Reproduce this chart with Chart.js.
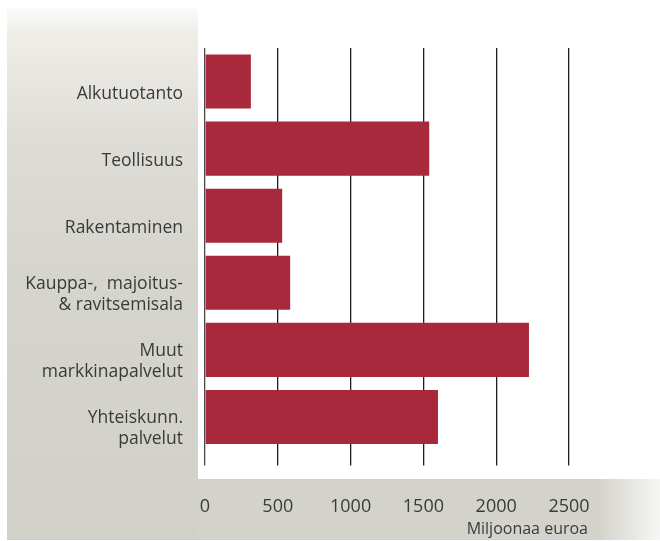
<!DOCTYPE html>
<html>
<head>
<meta charset="utf-8">
<script src="https://cdn.jsdelivr.net/npm/chart.js@4.4.1/dist/chart.umd.min.js"></script>
<style>
  html, body { margin: 0; padding: 0; background: #fff; }
  canvas { display: block; }
</style>
</head>
<body>
<canvas id="chart" width="660" height="541"></canvas>
<script>
// data (million euros)
const categories = [
  'Alkutuotanto',
  'Teollisuus',
  'Rakentaminen',
  ['Kauppa-,  majoitus-', '& ravitsemisala'],
  ['Muut', 'markkinapalvelut'],
  ['Yhteiskunn.', 'palvelut']
];
const values = [315, 1540, 530, 585, 2225, 1600];
const xTicks = [0, 500, 1000, 1500, 2000, 2500];
const unitLabel = 'Miljoonaa euroa';

const textColor = '#3a3a3a';
const barColor = '#a8293b';

// gray panels behind the chart + the unit text
const backdrop = {
  id: 'backdrop',
  beforeDraw(chart) {
    const ctx = chart.ctx;
    ctx.save();
    ctx.fillStyle = '#ffffff';
    ctx.fillRect(0, 0, chart.width, chart.height);

    var g = ctx.createLinearGradient(0, 8, 0, 540);
    g.addColorStop(0, '#fbfbfa');
    g.addColorStop(0.05, '#eeede8');
    g.addColorStop(0.25, '#dedcd6');
    g.addColorStop(0.5, '#d5d4cd');
    g.addColorStop(1, '#d2d1c9');
    ctx.fillStyle = g;
    ctx.fillRect(7, 8, 191, 532);

    var h = ctx.createLinearGradient(598, 0, 660, 0);
    h.addColorStop(0, '#d4d3cb');
    h.addColorStop(1, '#f6f6f4');
    ctx.fillStyle = h;
    ctx.fillRect(198, 479, chart.width - 198, 61);
    ctx.restore();
  },
  afterDraw(chart) {
    const ctx = chart.ctx;
    ctx.save();
    ctx.font = '16px "Open Sans"';
    ctx.fillStyle = textColor;
    ctx.textAlign = 'right';
    ctx.textBaseline = 'alphabetic';
    ctx.fillText(unitLabel, 588, 534);
    ctx.restore();
  }
};

new Chart(document.getElementById('chart'), {
  type: 'bar',
  data: {
    labels: categories,
    datasets: [{
      data: values,
      backgroundColor: barColor,
      borderWidth: 0,
      barPercentage: 0.805,
      categoryPercentage: 1
    }]
  },
  options: {
    indexAxis: 'y',
    responsive: false,
    animation: false,
    layout: { padding: { top: 48, right: 91, left: 0, bottom: 0 } },
    plugins: {
      legend: { display: false },
      tooltip: { enabled: false }
    },
    scales: {
      x: {
        min: 0,
        max: 2500,
        afterBuildTicks: (scale) => { scale.ticks = xTicks.map(v => ({ value: v })); },
        afterFit: (scale) => { scale.height = 90.5; },
        border: { display: false },
        grid: {
          color: (c) => c.tick && c.tick.value === 0 ? '#4a4a4a' : '#1e1e1e',
          lineWidth: 1.3,
          drawTicks: true,
          tickLength: 15
        },
        ticks: {
          color: textColor,
          font: { family: 'Open Sans', size: 18 },
          padding: 31,
          maxRotation: 0,
          callback: (v) => String(v)
        }
      },
      y: {
        afterFit: (scale) => { scale.width = 205; },
        border: { display: false },
        grid: { display: false, drawTicks: false },
        ticks: {
          color: textColor,
          font: { family: 'Open Sans', size: 17.5, lineHeight: 1.2 },
          padding: 22,
          labelOffset: 12
        }
      }
    }
  },
  plugins: [backdrop]
});
</script>
</body>
</html>
